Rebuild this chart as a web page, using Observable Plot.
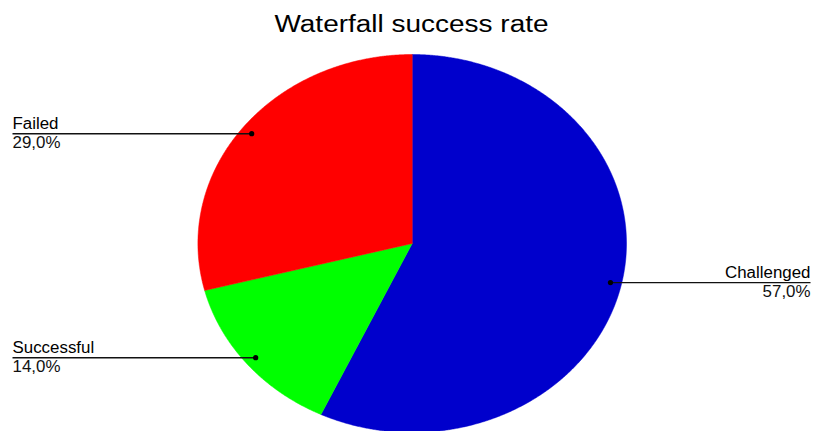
<!DOCTYPE html>
<html>
<head>
<meta charset="utf-8">
<script src="https://cdn.jsdelivr.net/npm/d3@7"></script>
<script src="https://cdn.jsdelivr.net/npm/@observablehq/plot@0.6"></script>
<style>
  html, body { margin: 0; padding: 0; background: #fff; }
  #chart { width: 814px; height: 431px; overflow: hidden; }
</style>
</head>
<body>
<div id="chart"></div>
<script>
// ---- data ----
const title = "Waterfall success rate";
const categories = ["Challenged", "Successful", "Failed"];
const shares = [57.0, 14.0, 29.0];
const colors = ["#0000CC", "#00FF00", "#FF0000"];

// ---- layout (pixels) ----
const CX = 411.7, CY = 243, RX = 214.3, RY = 189;
const LEFT_EDGE = 12, RIGHT_EDGE = 810;
const LABEL_RADIUS = 0.948;
const X_LEFT = (LEFT_EDGE - CX) / RX;
const X_RIGHT = (RIGHT_EDGE - CX) / RX;

const fmt = v => v.toFixed(1).replace(".", ",") + "%";

const data = categories.map((c, i) => ({category: c, value: shares[i]}));
const arcs = d3.pie().sort(null).value(d => d.value)(data);

// slice outlines in unit space (x = sin, y = cos; clockwise from top)
const slicePoints = arcs.flatMap(a => {
  const n = Math.max(4, Math.ceil((a.endAngle - a.startAngle) / 0.005));
  const pts = [{category: a.data.category, x: 0, y: 0}];
  for (let i = 0; i <= n; i++) {
    const t = a.startAngle + (a.endAngle - a.startAngle) * i / n;
    pts.push({category: a.data.category, x: Math.sin(t), y: Math.cos(t)});
  }
  pts.push({category: a.data.category, x: 0, y: 0});
  return pts;
});

const anchors = arcs.map(a => {
  const t = (a.startAngle + a.endAngle) / 2;
  const x = Math.sin(t) * LABEL_RADIUS;
  const y = Math.cos(t) * LABEL_RADIUS;
  const side = x < 0 ? "left" : "right";
  return {category: a.data.category, label: fmt(a.data.value), x, y, side,
          xEnd: side === "left" ? X_LEFT : X_RIGHT};
});

const FS = 15.8;
const left = d => d.side === "left";
const right = d => d.side === "right";

const svg = Plot.plot({
  width: 814,
  height: 431,
  margin: 0,
  x: {domain: [-1, 1], range: [CX - RX, CX + RX], axis: null},
  y: {domain: [-1, 1], range: [CY + RY, CY - RY], axis: null},
  color: {domain: categories, range: colors},
  style: {fontFamily: "'Liberation Sans', Arial, sans-serif", background: "#fff", color: "#000"},
  marks: [
    Plot.line(slicePoints, {x: "x", y: "y", z: "category", fill: "category", stroke: "category", strokeWidth: 0.5, curve: "linear"}),
    Plot.link(anchors, {x1: "x", y1: "y", x2: "xEnd", y2: "y", stroke: "#111", strokeWidth: 1.4}),
    Plot.dot(anchors, {x: "x", y: "y", r: 2.6, fill: "#000"}),
    Plot.text(anchors, {filter: left, x: "xEnd", y: "y", text: "category", textAnchor: "start", lineAnchor: "bottom", dy: -4.5, fontSize: FS, fill: "#000"}),
    Plot.text(anchors, {filter: left, x: "xEnd", y: "y", text: "label", textAnchor: "start", lineAnchor: "top", dy: 3, fontSize: FS, fill: "#111"}),
    Plot.text(anchors, {filter: right, x: "xEnd", y: "y", text: "category", textAnchor: "end", lineAnchor: "bottom", dy: -4.5, fontSize: FS, fill: "#000"}),
    Plot.text(anchors, {filter: right, x: "xEnd", y: "y", text: "label", textAnchor: "end", lineAnchor: "top", dy: 3, fontSize: FS, fill: "#111"}),
    Plot.text([title], {frameAnchor: "top", text: d => d, lineAnchor: "top", dx: 4, dy: 15, fontSize: 23.5, fill: "#000"})
  ]
});

document.getElementById("chart").appendChild(svg);

// horizontal stretch of the text, as in the reference
svg.querySelectorAll("text").forEach(t => {
  const k = t.textContent === title ? 1.19 : 1.07;
  const w = t.getComputedTextLength();
  if (w > 0) {
    t.setAttribute("textLength", (w * k).toFixed(1));
    t.setAttribute("lengthAdjust", "spacingAndGlyphs");
  }
});
</script>
</body>
</html>
